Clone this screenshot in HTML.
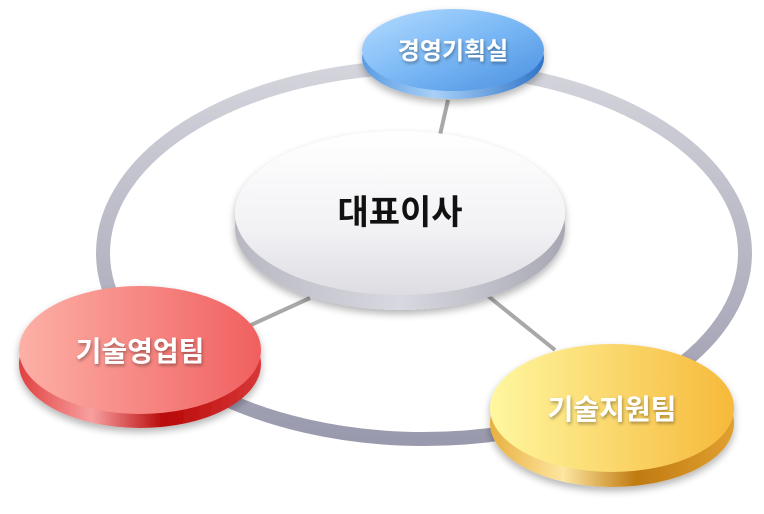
<!DOCTYPE html>
<html><head><meta charset="utf-8"><style>
html,body{margin:0;padding:0;background:#fff;width:764px;height:514px;overflow:hidden}
text{font-family:"Liberation Sans","Noto Sans CJK KR",sans-serif;font-weight:bold}
</style></head><body>
<svg width="764" height="514" viewBox="0 0 764 514">
<defs>
<linearGradient id="ring" x1="0" y1="0" x2="0" y2="1"><stop offset="0" stop-color="#d4d4dc"/><stop offset="1" stop-color="#9a9aae"/></linearGradient>
<linearGradient id="cTop" x1="0" y1="0" x2="0" y2="1"><stop offset="0" stop-color="#ffffff"/><stop offset="0.6" stop-color="#f2f2f5"/><stop offset="1" stop-color="#dcdce2"/></linearGradient>
<linearGradient id="cSide" x1="0" y1="0" x2="1" y2="0"><stop offset="0" stop-color="#b8b8c2"/><stop offset="0.5" stop-color="#d8d8e0"/><stop offset="1" stop-color="#a8a8b4"/></linearGradient>
<linearGradient id="bTop" x1="0" y1="0" x2="1" y2="1"><stop offset="0" stop-color="#b5dcff"/><stop offset="0.5" stop-color="#7ab8f5"/><stop offset="1" stop-color="#4a8fe0"/></linearGradient>
<linearGradient id="bSide" x1="0" y1="0" x2="1" y2="0"><stop offset="0" stop-color="#5a9be0"/><stop offset="0.4" stop-color="#a8d0f8"/><stop offset="1" stop-color="#2f74c8"/></linearGradient>
<linearGradient id="rTop" x1="0" y1="0" x2="1" y2="0"><stop offset="0" stop-color="#fdb0a6"/><stop offset="1" stop-color="#f06060"/></linearGradient>
<linearGradient id="rSide" x1="0" y1="0" x2="1" y2="0"><stop offset="0" stop-color="#e04040"/><stop offset="0.3" stop-color="#f8a0a0"/><stop offset="0.6" stop-color="#b80808"/><stop offset="1" stop-color="#d83838"/></linearGradient>
<linearGradient id="yTop" x1="0" y1="0" x2="1" y2="0"><stop offset="0" stop-color="#fff7a0"/><stop offset="1" stop-color="#f6b93a"/></linearGradient>
<linearGradient id="ySide" x1="0" y1="0" x2="1" y2="0"><stop offset="0" stop-color="#e8b040"/><stop offset="0.3" stop-color="#fde6a0"/><stop offset="0.6" stop-color="#c07a10"/><stop offset="1" stop-color="#e0a030"/></linearGradient>
<filter id="sh" x="-20%" y="-20%" width="140%" height="150%"><feGaussianBlur in="SourceAlpha" stdDeviation="4"/><feOffset dy="4"/><feComponentTransfer><feFuncA type="linear" slope="0.3"/></feComponentTransfer><feMerge><feMergeNode/><feMergeNode in="SourceGraphic"/></feMerge></filter>
<filter id="ts"><feDropShadow dx="1" dy="2" stdDeviation="1.5" flood-color="#000" flood-opacity="0.35"/></filter>
</defs>
<ellipse cx="424" cy="253" rx="321" ry="186" fill="none" stroke="url(#ring)" stroke-width="14"/>
<g stroke="#a8a8a8" stroke-width="4">
<line x1="448" y1="100" x2="440" y2="135"/>
<line x1="310" y1="298" x2="240" y2="330"/>
<line x1="488" y1="296" x2="555" y2="350"/>
</g>
<g filter="url(#sh)">
<ellipse cx="400" cy="228" rx="165" ry="82" fill="url(#cSide)"/>
<ellipse cx="400" cy="213" rx="165" ry="82" fill="url(#cTop)"/>
</g>
<text x="400" y="224" font-size="34" text-anchor="middle" fill="#111">대표이사</text>
<g filter="url(#sh)">
<ellipse cx="453" cy="58" rx="91" ry="41" fill="url(#bSide)"/>
<ellipse cx="453" cy="50" rx="91" ry="41" fill="url(#bTop)"/>
</g>
<text x="453" y="59" font-size="24" text-anchor="middle" fill="#fff" filter="url(#ts)">경영기획실</text>
<g filter="url(#sh)">
<ellipse cx="140" cy="364" rx="121" ry="64" fill="url(#rSide)"/>
<ellipse cx="140" cy="350" rx="121" ry="64" fill="url(#rTop)"/>
</g>
<text x="140" y="361" font-size="28" text-anchor="middle" fill="#fff" filter="url(#ts)">기술영업팀</text>
<g filter="url(#sh)">
<ellipse cx="612" cy="423" rx="122" ry="64" fill="url(#ySide)"/>
<ellipse cx="612" cy="408" rx="122" ry="64" fill="url(#yTop)"/>
</g>
<text x="612" y="419" font-size="28" text-anchor="middle" fill="#fff" filter="url(#ts)">기술지원팀</text>
</svg>
</body></html>
